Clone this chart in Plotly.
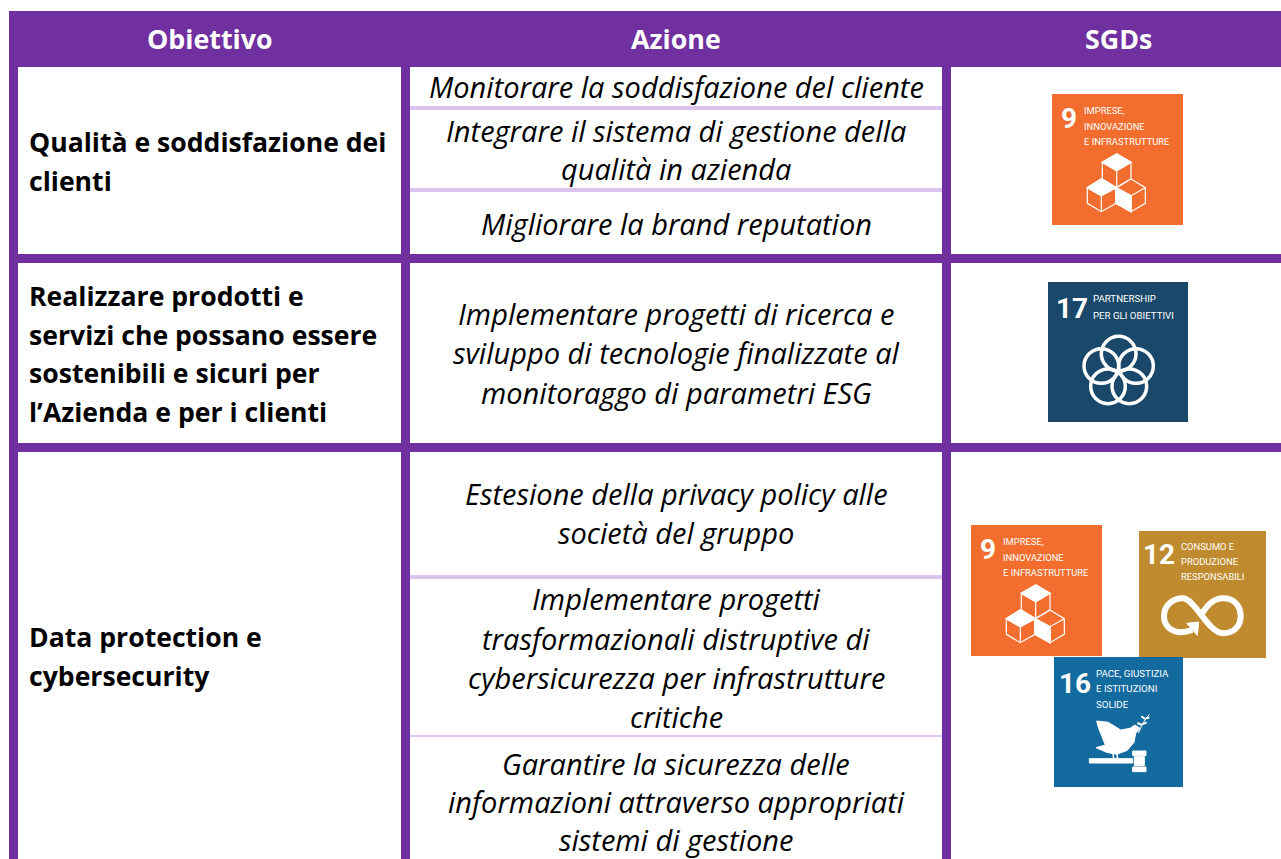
import plotly.graph_objects as go

# ---------- content ----------
headers = ["Obiettivo", "Azione", "SGDs"]
objectives = [
    ["Qualità e soddisfazione dei", "clienti"],
    ["Realizzare prodotti e", "servizi che possano essere", "sostenibili e sicuri per", "l’Azienda e per i clienti"],
    ["Data protection e", "cybersecurity"],
]
actions = [
    ["Monitorare la soddisfazione del cliente"],
    ["Integrare il sistema di gestione della", "qualità in azienda"],
    ["Migliorare la brand reputation"],
    ["Implementare progetti di ricerca e", "sviluppo di tecnologie finalizzate al", "monitoraggo di parametri ESG"],
    ["Estesione della privacy policy alle", "società del gruppo"],
    ["Implementare progetti", "trasformazionali distruptive di", "cybersicurezza per infrastrutture", "critiche"],
    ["Garantire la sicurezza delle", "informazioni attraverso appropriati", "sistemi di gestione"],
]
sdg_labels = {
    9: ["IMPRESE,", "INNOVAZIONE", "E INFRASTRUTTURE"],
    12: ["CONSUMO E", "PRODUZIONE", "RESPONSABILI"],
    16: ["PACE, GIUSTIZIA", "E ISTITUZIONI", "SOLIDE"],
    17: ["PARTNERSHIP", "PER GLI OBIETTIVI"],
}
sdg_colors = {9: "#F36D2E", 12: "#BF8B2E", 16: "#136A9F", 17: "#19486A"}

# ---------- layout constants (page pixels) ----------
W, H = 1281, 859
PURPLE, LILAC, WHITE = "#7030A0", "#DCC3EE", "#FFFFFF"
FONT = "'Open Sans', Lato, sans-serif"
NARROW = "Roboto, 'Liberation Sans', sans-serif"

header_y, header_x = 38, [210, 676, 1118]
objective_x = 28
objective_y = [[142, 181], [296, 335, 373, 412], [637, 676]]
action_x = 676
action_y = [[86], [130, 168], [223], [313, 352, 392], [493, 532], [598, 638, 677, 716], [763, 801, 839]]

purple_rects = [(9, 11, W, 67), (9, 11, 18, H), (401, 11, 410, H), (942, 11, 951, H),
                (9, 254, W, 263), (9, 443, W, 452)]
lilac_rects = [(410, 106, 942, 110), (410, 188, 942, 192), (410, 575, 942, 579), (410, 735, 942, 737)]

# icon: (sdg, x, y, w, h, number centre u, number centre v, label u, label v list, label size)
icons = [
    (9, 1052, 94, 131, 131, .132, .186, .239, [.127, .249, .366], 9.4),
    (17, 1048, 282, 140, 140, .169, .186, .312, [.121, .240], 9.7),
    (9, 971, 525, 131, 131, .132, .186, .239, [.127, .249, .366], 9.4),
    (12, 1139, 531, 127, 127, .160, .184, .323, [.123, .241, .359], 9.4),
    (16, 1054, 657, 129, 130, .163, .200, .318, [.128, .246, .364], 9.7),
]

fig = go.Figure()
shapes, notes = [], []


def rect(x0, y0, x1, y1, color):
    shapes.append(dict(type="rect", xref="x", yref="y", x0=x0, y0=y0, x1=x1, y1=y1,
                       fillcolor=color, line_width=0, layer="above"))


def text(x, y, s, size, color="#000000", family=FONT, anchor="center", bold=False, italic=False):
    if bold:
        s = f"<b>{s}</b>"
    if italic:
        s = f"<i>{s}</i>"
    notes.append(dict(x=x, y=y, xref="x", yref="y", text=s, showarrow=False, xanchor=anchor,
                      yanchor="middle", align=anchor, borderpad=0,
                      font=dict(size=size, color=color, family=family)))


def path(points, closed=False, fill=None, width=1.5):
    d = "M " + " L ".join(f"{x:.2f},{y:.2f}" for x, y in points) + (" Z" if closed else "")
    shapes.append(dict(type="path", xref="x", yref="y", path=d, layer="above",
                       fillcolor=fill if fill else "rgba(0,0,0,0)",
                       line=dict(color=WHITE, width=width)))


def draw_cubes(x, y, w, h):
    p = lambda a, b: (x + (a - 66) / 393 * w, y + (b - 42) / 393 * h)
    ps = lambda lst: [p(*q) for q in lst]
    path(ps([(260, 222), (303, 247), (260, 272), (217, 247)]), True, WHITE)
    path(ps([(214, 297), (258, 323), (214, 347), (172, 323)]), True, WHITE)
    path(ps([(258, 323), (303, 347), (303, 395), (258, 370)]), True, WHITE)
    for lst in ([(260, 222), (303, 247), (303, 297), (260, 323), (217, 297), (217, 247)],
                [(214, 297), (258, 323), (258, 370), (214, 395), (172, 370), (172, 323)],
                [(303, 297), (346, 323), (346, 370), (303, 395), (258, 370), (258, 323)]):
        path(ps(lst), True, width=1.2)
    for lst in ([(217, 247), (260, 272), (303, 247)], [(260, 272), (260, 323)],
                [(172, 323), (214, 347), (258, 323)], [(214, 347), (214, 395)],
                [(258, 323), (303, 347), (346, 323)], [(303, 347), (303, 395)]):
        path(ps(lst), width=1.2)


def draw_rings(x, y, w, h):
    for cx, cy in [(266, 252), (318, 289), (298, 350), (234, 350), (214, 289)]:
        shapes.append(dict(type="circle", xref="x", yref="y", layer="above",
                           x0=x + (cx - 52 - 54) / 420 * w, x1=x + (cx + 52 - 54) / 420 * w,
                           y0=y + (cy - 52 - 37) / 420 * h, y1=y + (cy + 52 - 37) / 420 * h,
                           fillcolor="rgba(0,0,0,0)", line=dict(color=WHITE, width=3.5)))


def draw_infinity(x, y, w, h):
    p = lambda a, b: f"{x + (a - 537) / 381 * w:.2f},{y + (b - 48) / 381 * h:.2f}"
    d = (f"M {p(697, 345)} C {p(640, 365)} {p(612, 335)} {p(612, 304)} "
         f"C {p(612, 270)} {p(640, 250)} {p(668, 250)} "
         f"C {p(705, 250)} {p(745, 355)} {p(790, 355)} "
         f"C {p(820, 355)} {p(842, 335)} {p(842, 304)} "
         f"C {p(842, 270)} {p(820, 250)} {p(790, 250)} "
         f"C {p(755, 250)} {p(738, 278)} {p(724, 298)}")
    shapes.append(dict(type="path", xref="x", yref="y", path=d, layer="above",
                       fillcolor="rgba(0,0,0,0)", line=dict(color=WHITE, width=6)))
    q = lambda a, b: (x + (a - 537) / 381 * w, y + (b - 48) / 381 * h)
    path([q(680, 325), q(716, 321), q(712, 361)], True, WHITE, 1)


def draw_dove(x, y, w, h):
    p = lambda a, b: (x + (a - 282) / 387 * w, y + (b - 426) / 390 * h)
    ps = lambda lst: [p(*q) for q in lst]
    path(ps([(410, 618), (445, 622), (482, 645), (510, 640), (525, 630), (540, 640), (527, 655),
             (522, 682), (502, 706), (470, 718), (440, 712), (408, 698), (436, 690), (426, 665),
             (416, 640)]), True, WHITE, 1)
    path(ps([(458, 712), (462, 735)]), width=1.5)
    path(ps([(472, 712), (472, 735)]), width=1.5)
    path(ps([(388, 731), (518, 731), (518, 744), (388, 744)]), True, WHITE, 1)
    path(ps([(518, 708), (558, 708), (558, 722), (518, 722)]), True, WHITE, 1)
    path(ps([(523, 725), (553, 725), (553, 752), (523, 752)]), True, WHITE, 1)
    path(ps([(518, 756), (558, 756), (558, 770), (518, 770)]), True, WHITE, 1)
    path(ps([(535, 655), (548, 625), (568, 598)]), width=1)
    for leaf in ([(546, 630), (532, 624)], [(546, 628), (560, 622)], [(556, 612), (544, 604)],
                 [(558, 610), (568, 608)]):
        path(ps(leaf), width=2)


# ---------- grid ----------
for r in purple_rects:
    rect(r[0], r[1], r[2], r[3], PURPLE)
for r in lilac_rects:
    rect(r[0], r[1], r[2], r[3], LILAC)

# ---------- text ----------
for s, x in zip(headers, header_x):
    text(x, header_y, s, 26.8, WHITE, bold=True)
for lines, ys in zip(objectives, objective_y):
    for s, y in zip(lines, ys):
        text(objective_x, y, s, 26.6, anchor="left", bold=True)
for lines, ys in zip(actions, action_y):
    for s, y in zip(lines, ys):
        text(action_x, y, s, 29, italic=True)

# ---------- icons ----------
glyphs = {9: draw_cubes, 12: draw_infinity, 16: draw_dove, 17: draw_rings}
for sdg, x, y, w, h, nu, nv, lu, lvs, ls in icons:
    rect(x, y, x + w, y + h, sdg_colors[sdg])
    glyphs[sdg](x, y, w, h)
    text(x + nu * w, y + nv * h, str(sdg), 28, WHITE, NARROW, bold=True)
    for s, v in zip(sdg_labels[sdg], lvs):
        text(x + lu * w, y + v * h, s, ls, WHITE, NARROW, anchor="left")

fig.update_layout(
    width=W, height=H, margin=dict(l=0, r=0, t=0, b=0), autosize=False,
    paper_bgcolor=WHITE, plot_bgcolor=WHITE, showlegend=False,
    shapes=shapes, annotations=notes,
    xaxis=dict(range=[0, W], visible=False, fixedrange=True),
    yaxis=dict(range=[H, 0], visible=False, fixedrange=True),
)
fig.write_html("out.html", config={"displayModeBar": False},
               post_script="document.body.style.margin='0';document.body.style.overflow='hidden';")
